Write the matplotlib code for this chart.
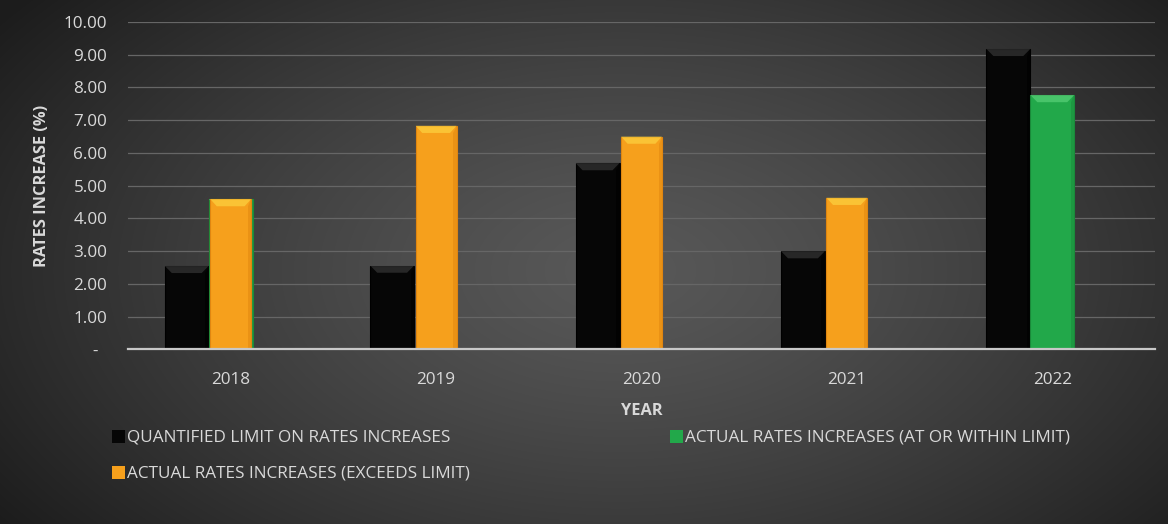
import numpy as np
import matplotlib
matplotlib.use("Agg")
import matplotlib.pyplot as plt
from matplotlib.patches import Rectangle, Polygon

plt.rcParams['font.family'] = ['Open Sans', 'DejaVu Sans']

years = ["2018", "2019", "2020", "2021", "2022"]
limit = [2.55, 2.56, 5.69, 3.00, 9.18]
within_limit = [4.59, np.nan, np.nan, np.nan, 7.77]
exceeds_limit = [4.59, 6.83, 6.50, 4.63, np.nan]
yticks = [0, 1, 2, 3, 4, 5, 6, 7, 8, 9, 10]
ytick_labels = ["-  "] + [f"{v:.2f}" for v in yticks[1:]]

BLACK = "#060606"
GREEN = "#22a84a"
ORANGE = "#f6a01c"
TEXT = "#d9d9d9"
FS = 12.3

W, H = 1168, 524
fig = plt.figure(figsize=(W / 100, H / 100), dpi=100)

# radial background gradient
bg = fig.add_axes([0, 0, 1, 1], zorder=-10)
yy, xx = np.mgrid[0:H, 0:W]
r = np.sqrt(((xx - 620) / 760.0) ** 2 + ((yy - 270) / 440.0) ** 2)
r = np.clip(r, 0, 1)
centre, edge = 0x58, 0x1c
val = (centre + (edge - centre) * r ** 1.3) / 255.0
img = np.dstack([val, val, val])
bg.imshow(img, aspect="auto", extent=[0, 1, 0, 1], origin="upper")
bg.axis("off")

ax = fig.add_axes([128 / W, (H - 349.3) / H, (1155 - 128) / W, (349.3 - 22) / H])
ax.set_facecolor("none")
x = np.arange(len(years))
w = 0.214


def bars(offset, values, color, edge, bevel, alpha, width=w, z=3):
    ax.bar(x + offset, values, width=width, color=color, edgecolor=edge,
           linewidth=0.8, zorder=z)
    # bevelled top edge of each bar
    d, h = width * 0.16, 0.22
    for xi, v in zip(x, values):
        if np.isnan(v):
            continue
        x0, x1 = xi + offset - width / 2, xi + offset + width / 2
        top = Polygon([(x0, v), (x1, v), (x1 - d, v - h), (x0 + d, v - h)],
                      closed=True, facecolor=bevel, edgecolor="none",
                      alpha=alpha, zorder=z + 0.5)
        ax.add_patch(top)
        side = Polygon([(x1, v), (x1, 0), (x1 - d * 0.5, 0), (x1 - d * 0.5, v - h)],
                       closed=True, facecolor=edge, edgecolor="none",
                       alpha=0.5, zorder=z + 0.4)
        ax.add_patch(side)


bars(-w, limit, BLACK, "#000000", "#5a5a5a", 0.4)
bars(0, within_limit, GREEN, "#1a8a3a", "#6fe08a", 0.5)
bars(0, exceeds_limit, ORANGE, "#e08610", "#ffe04a", 0.55, width=w * 0.93, z=4)

ax.set_xlim(-0.5, len(years) - 0.5)
ax.set_ylim(0, 10)
ax.set_yticks(yticks)
ax.set_yticklabels(ytick_labels)
ax.set_xticks(x)
ax.set_xticklabels(years)
ax.tick_params(axis="both", colors=TEXT, labelsize=FS, length=0)
ax.tick_params(axis="y", pad=15)
ax.tick_params(axis="x", pad=16)
ax.yaxis.grid(True, color="#666666", linewidth=0.9, zorder=0)
ax.set_axisbelow(True)
for s in ["top", "right", "left"]:
    ax.spines[s].set_visible(False)
ax.spines["bottom"].set_color("#c8c8c8")
ax.spines["bottom"].set_linewidth(1.6)
ax.spines["bottom"].set_zorder(6)

ax.set_ylabel("RATES INCREASE (%)", color=TEXT, fontsize=FS - 0.5,
              fontweight="bold", labelpad=10)
ax.set_xlabel("YEAR", color=TEXT, fontsize=FS - 0.5, fontweight="bold", labelpad=11)

# legend entries
legend_items = [
    (112, 437, BLACK, "QUANTIFIED LIMIT ON RATES INCREASES"),
    (670, 437, GREEN, "ACTUAL RATES INCREASES (AT OR WITHIN LIMIT)"),
    (112, 473, ORANGE, "ACTUAL RATES INCREASES (EXCEEDS LIMIT)"),
]
for px, py, col, label in legend_items:
    fig.patches.append(Rectangle((px / W, (H - py - 6) / H), 13 / W, 13 / H,
                                 transform=fig.transFigure, facecolor=col,
                                 edgecolor="none"))
    fig.text((px + 15) / W, (H - py) / H, label, color=TEXT, fontsize=FS,
             va="center", ha="left")

fig.savefig("out.png", dpi=100)
